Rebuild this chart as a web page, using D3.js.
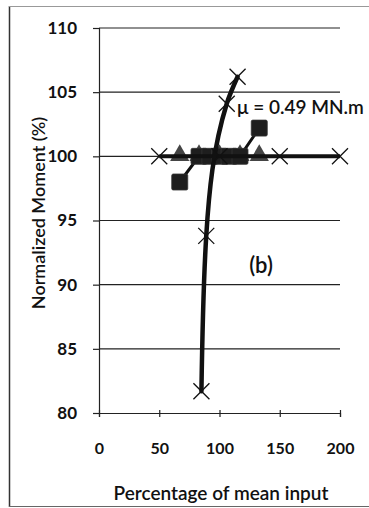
<!DOCTYPE html>
<html>
<head>
<meta charset="utf-8">
<script src="https://cdn.jsdelivr.net/npm/d3@7"></script>
<style>
  body { margin: 0; background: #fff; }
  text { font-family: Lato, "Open Sans", sans-serif; font-weight: 700; fill: #111; }
</style>
</head>
<body>
<svg id="chart" width="369" height="508"></svg>
<script>
// series
const yTicks = [80, 85, 90, 95, 100, 105, 110];
const xTicks = [0, 50, 100, 150, 200];

const crossFlatX = [50, 100, 150, 200];
const crossFlatY = [100, 100, 100, 100];

const crossCurveX = [85, 89, 106, 115];
const crossCurveY = [81.7, 93.8, 104.1, 106.2];

const triX = [67, 83, 100, 117, 133];
const triY = [100, 100, 100, 100, 100];

const sqX = [67, 83, 92, 100, 108, 117, 133];
const sqY = [98, 100, 100, 100, 100, 100, 102.2];

const svg = d3.select('#chart');

// frame of the scanned figure
svg.append('line').attr('x1', 9.5).attr('x2', 9.5).attr('y1', 6).attr('y2', 507)
  .attr('stroke', '#333').attr('stroke-width', 1.5);
svg.append('line').attr('x1', 9).attr('x2', 369).attr('y1', 6.5).attr('y2', 6.5)
  .attr('stroke', '#999').attr('stroke-width', 1);
svg.append('line').attr('x1', 9).attr('x2', 369).attr('y1', 506.5).attr('y2', 506.5)
  .attr('stroke', '#666').attr('stroke-width', 1);

const x = d3.scaleLinear().domain([0, 200]).range([99, 340]);
const y = d3.scaleLinear().domain([80, 110]).range([413, 28]);

// horizontal grid
svg.append('g').selectAll('line').data(yTicks.slice(1)).enter().append('line')
  .attr('x1', x(0)).attr('x2', x(200))
  .attr('y1', d => y(d)).attr('y2', d => y(d))
  .attr('stroke', '#222').attr('stroke-width', 1.2);

// y axis
const yAxis = d3.axisLeft(y).tickValues(yTicks).tickSize(6).tickPadding(16);
const gy = svg.append('g').attr('transform', 'translate(' + x(0) + ',0)').call(yAxis);
gy.select('.domain').attr('stroke', '#222').attr('stroke-width', 1.2);
gy.selectAll('.tick line').attr('stroke', '#222').attr('stroke-width', 1.2);
gy.selectAll('text').style('font-size', '17px').style('font-family', 'Lato, sans-serif')
  .style('font-weight', '700').attr('fill', '#111');

// x axis
const xAxis = d3.axisBottom(x).tickValues(xTicks).tickSize(4).tickPadding(26);
const gx = svg.append('g').attr('transform', 'translate(0,' + y(80) + ')').call(xAxis);
gx.select('.domain').attr('stroke', '#222').attr('stroke-width', 1.2);
gx.selectAll('.tick line').attr('stroke', '#222').attr('stroke-width', 1.2).attr('y1', -3);
gx.selectAll('text').style('font-size', '16px').style('font-family', 'Lato, sans-serif')
  .style('font-weight', '700').attr('fill', '#111');

// axis titles
svg.append('text').attr('x', 221).attr('y', 500).attr('text-anchor', 'middle')
  .style('font-size', '19px').style('font-weight', '600').text('Percentage of mean input');
svg.append('text').attr('transform', 'translate(45,213) rotate(-90)').attr('text-anchor', 'middle')
  .style('font-size', '18px').style('font-weight', '600').text('Normalized Moment (%)');

const line = d3.line().x(d => x(d[0])).y(d => y(d[1]));

// triangles series
const triPts = triX.map((v, i) => [v, triY[i]]);
svg.append('path').datum(triPts).attr('d', line).attr('fill', 'none')
  .attr('stroke', '#444').attr('stroke-width', 3);
svg.append('g').selectAll('path').data(triPts).enter().append('path')
  .attr('d', d3.symbol().type(d3.symbolTriangle).size(160))
  .attr('transform', d => 'translate(' + x(d[0]) + ',' + (y(d[1]) - 1) + ')')
  .attr('fill', '#444');

// squares series
const sqPts = sqX.map((v, i) => [v, sqY[i]]);
svg.append('path').datum(sqPts).attr('d', line).attr('fill', 'none')
  .attr('stroke', '#111').attr('stroke-width', 3);
svg.append('g').selectAll('rect').data(sqPts).enter().append('rect')
  .attr('x', d => x(d[0]) - 8).attr('y', d => y(d[1]) - 8)
  .attr('width', 16).attr('height', 16).attr('rx', 1.5)
  .attr('fill', '#1e1e1e').attr('stroke', '#333').attr('stroke-width', 0.8);

// flat X series
const flatPts = crossFlatX.map((v, i) => [v, crossFlatY[i]]);
svg.append('path').datum(flatPts).attr('d', line).attr('fill', 'none')
  .attr('stroke', '#111').attr('stroke-width', 4);

// steep X series, smoothed
const curvePts = crossCurveX.map((v, i) => [v, crossCurveY[i]]);
const smooth = d3.line().x(d => x(d[0])).y(d => y(d[1])).curve(d3.curveMonotoneY);
svg.append('path').datum(curvePts).attr('d', smooth).attr('fill', 'none')
  .attr('stroke', '#111').attr('stroke-width', 4.5).attr('stroke-linecap', 'round');

// X markers
const crossPts = flatPts.concat(curvePts);
svg.append('g').selectAll('path').data(crossPts).enter().append('path')
  .attr('d', 'M-8,-8L8,8M-8,8L8,-8')
  .attr('transform', d => 'translate(' + x(d[0]) + ',' + y(d[1]) + ')')
  .attr('stroke', '#111').attr('stroke-width', 1.3).attr('fill', 'none');

// annotations
svg.append('text').attr('x', 237).attr('y', 114).style('font-size', '19px')
  .style('font-weight', '600').text('\u03bc = 0.49 MN.m');
svg.append('text').attr('x', 261).attr('y', 273).attr('text-anchor', 'middle')
  .style('font-size', '22px').style('font-weight', '600').text('(b)');
</script>
</body>
</html>
